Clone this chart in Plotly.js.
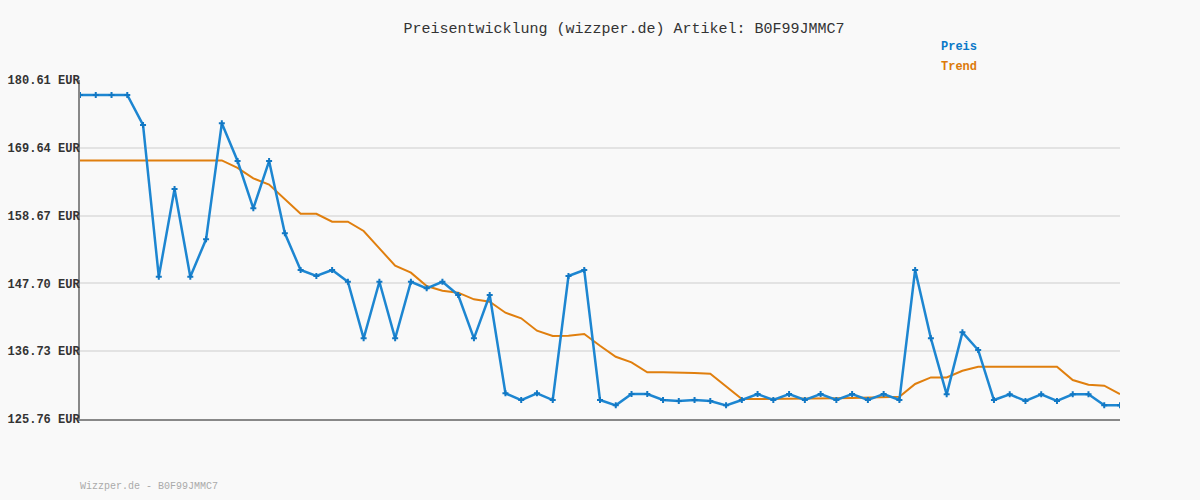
<!DOCTYPE html>
<html>
<head>
<meta charset="utf-8">
<script src="https://cdn.plot.ly/plotly-3.0.1.min.js"></script>
<style>html,body{margin:0;padding:0;background:#f9f9f9;}#chart{width:1200px;height:500px;}</style>
</head>
<body>
<div id="chart"></div>
<script>
const priceValues = [178.18,178.18,178.18,178.18,173.33,148.78,162.97,148.78,154.83,173.6,
  167.5,159.85,167.5,155.8,149.87,148.9,149.87,147.97,138.81,147.97,
  138.81,147.97,146.9,147.97,145.82,138.81,145.82,129.91,128.83,129.91,
  128.83,148.9,149.87,128.83,127.97,129.8,129.8,128.83,128.67,128.83,
  128.67,127.97,128.83,129.8,128.83,129.8,128.83,129.8,128.83,129.8,
  128.83,129.8,128.83,149.87,138.81,129.75,139.78,136.92,128.83,129.75,
  128.67,129.75,128.67,129.75,129.75,128.0,128.0];
const trendValues = [167.6,167.6,167.6,167.6,167.6,167.6,167.6,167.6,167.6,167.6,
  166.4,164.7,163.7,161.3,158.97,158.97,157.68,157.68,156.18,153.37,
  150.56,149.43,147.28,146.52,146.2,145.12,144.74,142.96,142.05,140.05,
  139.19,139.24,139.51,137.62,135.83,134.93,133.31,133.31,133.31,133.2,
  133.1,131.09,128.99,129.0,129.0,129.05,129.05,129.1,129.1,129.15,
  129.2,129.3,129.36,131.43,132.49,132.49,133.57,134.22,134.22,134.22,
  134.22,134.22,134.22,132.07,131.31,131.15,129.8];
const tickValues = [125.76,136.73,147.70,158.67,169.64,180.61];
const tickLabels = ["125.76 EUR","136.73 EUR","147.70 EUR","158.67 EUR","169.64 EUR","180.61 EUR"];
const seriesNames = ["Preis","Trend"];
const titleText = "Preisentwicklung (wizzper.de) Artikel: B0F99JMMC7";
const footerText = "Wizzper.de - B0F99JMMC7";

const idx = priceValues.map((_, i) => i);
const mono = "'Liberation Mono', 'DejaVu Sans Mono', monospace";

const traces = [
  {x: idx, y: trendValues, type: 'scatter', mode: 'lines', name: seriesNames[1],
   line: {color: '#e07f0e', width: 2}, hoverinfo: 'y'},
  {x: idx, y: priceValues, type: 'scatter', mode: 'lines+markers', name: seriesNames[0],
   line: {color: '#1d86d1', width: 2.5},
   marker: {symbol: 'cross', size: 5, color: '#1278c4'}, hoverinfo: 'y'}
];

const layout = {
  width: 1200, height: 500,
  paper_bgcolor: '#f9f9f9', plot_bgcolor: '#f9f9f9',
  margin: {l: 80, r: 80, t: 80, b: 81},
  showlegend: false,
  title: {text: titleText, xref: 'container', x: 0.52, xanchor: 'center', y: 0.944, yanchor: 'middle',
          font: {family: mono, size: 15, color: '#333'}},
  xaxis: {range: [0, idx.length - 1], showgrid: false, zeroline: false, showticklabels: false,
          showline: true, linecolor: '#888', linewidth: 2, ticks: ''},
  yaxis: {range: [tickValues[0], tickValues[tickValues.length - 1]], tickvals: tickValues, ticktext: tickLabels,
          showgrid: true, gridcolor: '#e3e3e3', gridwidth: 2, zeroline: false,
          showline: true, linecolor: '#888', linewidth: 2, ticks: '', ticklen: 0, ticklabelstandoff: -4,
          tickfont: {family: mono, size: 12, color: '#333', weight: 'bold'}},
  annotations: [
    {text: '<b>' + seriesNames[0] + '</b>', xref: 'paper', yref: 'paper', x: 0.826, y: 1.097,
     xanchor: 'left', yanchor: 'middle', showarrow: false, font: {family: mono, size: 12, color: '#0a78c8'}},
    {text: '<b>' + seriesNames[1] + '</b>', xref: 'paper', yref: 'paper', x: 0.826, y: 1.038,
     xanchor: 'left', yanchor: 'middle', showarrow: false, font: {family: mono, size: 12, color: '#dc7a0a'}},
    {text: footerText, xref: 'paper', yref: 'paper', x: -0.002, y: -0.198,
     xanchor: 'left', yanchor: 'middle', showarrow: false, font: {family: mono, size: 10, color: '#aaa'}}
  ]
};

Plotly.newPlot('chart', traces, layout, {displayModeBar: false, staticPlot: true});
</script>
</body>
</html>
